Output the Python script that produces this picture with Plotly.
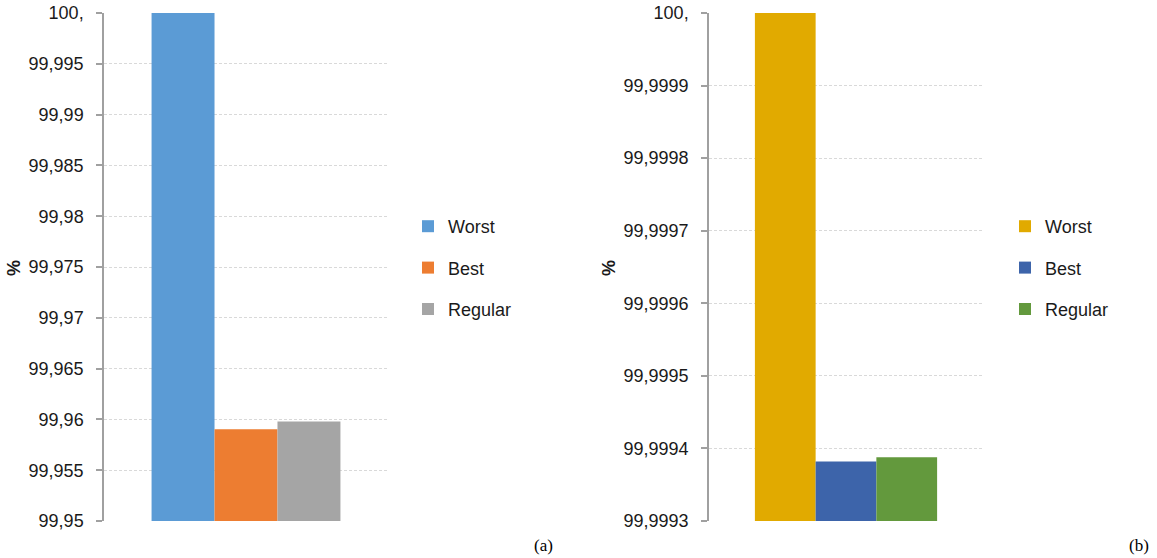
import plotly.graph_objects as go

# ---- data ----
series = ["Worst", "Best", "Regular"]
values_a = [100.0, 99.95904, 99.95980]
values_b = [100.0, 99.999382, 99.999388]
colors_a = ["#5B9BD5", "#ED7D31", "#A5A5A5"]
colors_b = ["#E1AA00", "#3D64AA", "#63993D"]
ticks_a = [99.95, 99.955, 99.96, 99.965, 99.97, 99.975, 99.98, 99.985, 99.99, 99.995, 100.0]
ticklabels_a = ["99,95", "99,955", "99,96", "99,965", "99,97", "99,975", "99,98", "99,985", "99,99", "99,995", "100,"]
ticks_b = [99.9993, 99.9994, 99.9995, 99.9996, 99.9997, 99.9998, 99.9999, 100.0]
ticklabels_b = ["99,9993", "99,9994", "99,9995", "99,9996", "99,9997", "99,9998", "99,9999", "100,"]
category = [""]

# page body margin is removed below, so the figure fills the window
W, H = 1157, 558


def px(sx):
    return sx / W


def py(sy):
    return 1 - sy / H


FONT = "Liberation Sans, Arial"
fig = go.Figure()

for name, v, c in zip(series, values_a, colors_a):
    fig.add_trace(go.Bar(x=category, y=[v], name=name, marker_color=c, marker_line_width=0,
                         xaxis="x", yaxis="y", legend="legend", legendgroup="a" + name))
for name, v, c in zip(series, values_b, colors_b):
    fig.add_trace(go.Bar(x=category, y=[v], name=name, marker_color=c, marker_line_width=0,
                         xaxis="x2", yaxis="y2", legend="legend2", legendgroup="b" + name))

tickfont = dict(family=FONT, size=18, color="#1a1a1a")
axis_common = dict(showline=True, linecolor="#A0A0A0", linewidth=1.5, ticks="outside", ticklen=6,
                   tickcolor="#A0A0A0", tickwidth=1.5, showgrid=True, gridcolor="#D9D9D9",
                   griddash="3px,2px", gridwidth=1, zeroline=False, tickfont=tickfont,
                   tickmode="array", automargin=False, ticklabeloverflow="allow",
                   ticklabelstandoff=9)
legend_common = dict(font=dict(family=FONT, size=18, color="#1a1a1a"),
                     tracegroupgap=15, yanchor="middle", xanchor="left", bgcolor="rgba(0,0,0,0)",
                     itemclick=False, itemdoubleclick=False)

fig.update_layout(
    width=W, height=H,
    margin=dict(l=0, r=0, t=0, b=0, autoexpand=False),
    paper_bgcolor="white", plot_bgcolor="white",
    barmode="group", bargap=0.335, bargroupgap=0,
    xaxis=dict(domain=[px(104), px(388)], showticklabels=False, showline=False, ticks="",
               showgrid=False, zeroline=False, type="category", automargin=False),
    xaxis2=dict(domain=[px(709), px(983)], showticklabels=False, showline=False, ticks="",
                showgrid=False, zeroline=False, type="category", automargin=False),
    yaxis=dict(domain=[py(521), py(13)], range=[99.95, 100.0], tickvals=ticks_a, ticktext=ticklabels_a,
               anchor="x", **axis_common),
    yaxis2=dict(domain=[py(521), py(13)], range=[99.9993, 100.0], tickvals=ticks_b, ticktext=ticklabels_b,
                anchor="x2", **axis_common),
    legend=dict(x=px(408), y=py(268), **legend_common),
    legend2=dict(x=px(1005), y=py(268), **legend_common),
    showlegend=True,
    annotations=[
        dict(text="<b>%</b>", x=px(14), y=py(268), xref="paper", yref="paper", showarrow=False,
             xanchor="center", yanchor="middle", textangle=-90,
             font=dict(family=FONT, size=18, color="#1a1a1a")),
        dict(text="<b>%</b>", x=px(609), y=py(268), xref="paper", yref="paper", showarrow=False,
             xanchor="center", yanchor="middle", textangle=-90,
             font=dict(family=FONT, size=18, color="#1a1a1a")),
        dict(text="(a)", x=px(543), y=py(545), xref="paper", yref="paper", showarrow=False,
             xanchor="center", yanchor="middle",
             font=dict(family="Liberation Serif, Times New Roman", size=17, color="black")),
        dict(text="(b)", x=px(1139), y=py(545), xref="paper", yref="paper", showarrow=False,
             xanchor="center", yanchor="middle",
             font=dict(family="Liberation Serif, Times New Roman", size=17, color="black")),
    ],
)

fig.write_html("out.html", post_script="document.body.style.margin='0';",
               config={"displayModeBar": False})
